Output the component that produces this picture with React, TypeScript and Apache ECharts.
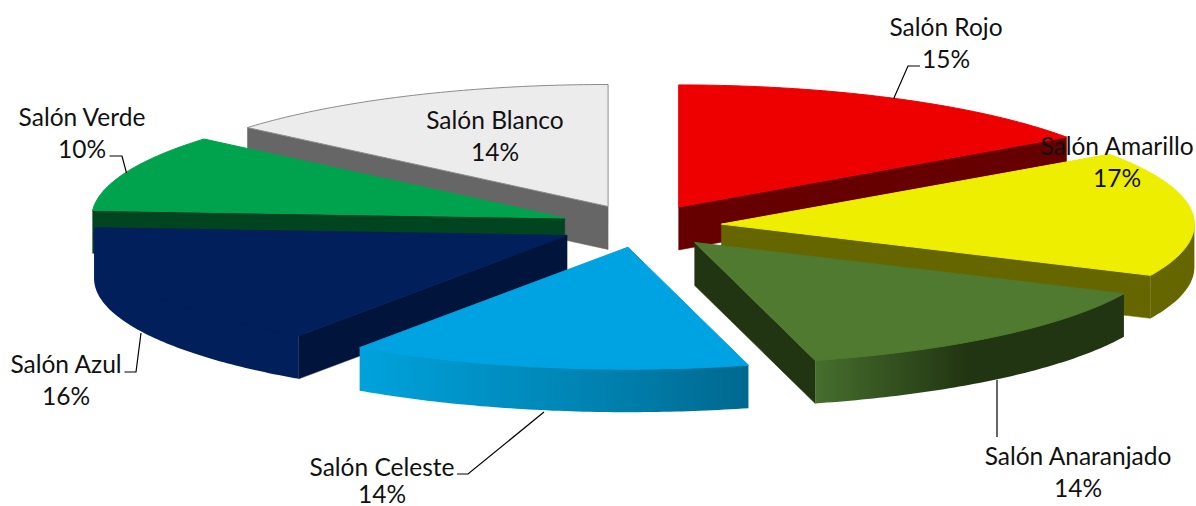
import React, { useEffect, useRef } from "react";
import * as echarts from "echarts";

const NAMES = [
  "Salón Rojo",
  "Salón Amarillo",
  "Salón Anaranjado",
  "Salón Celeste",
  "Salón Azul",
  "Salón Verde",
  "Salón Blanco",
];
const VALUES = [15.3, 16.6, 14.0, 13.7, 16.4, 10.2, 13.8];

// Back-to-front painting order (indices into NAMES)
const DRAW_ORDER = [6, 0, 1, 2, 5, 4, 3];

const TOP_COLORS = ["#ee0000", "#eeee00", "#4f7a30", "#00a3e1", "#001f5b", "#00a34d", "#ececec"];
const SIDE_COLORS = ["#660000", "#666600", "#223512", "#00688f", "#00143c", "#004420", "#666666"];
const RIM_COLORS: string[][] = [
  ["#660000", "#660000"],
  ["#666600", "#666600"],
  ["#47702f", "#34521f", "#223512", "#223512", "#223512"],
  ["#00a2dc", "#0090c4", "#007fac", "#00688f"],
  ["#001f5b", "#001f5b"],
  ["#004420", "#004420"],
  ["#666666", "#666666"],
];

// Label centres (name line, percent line) and leader lines
const NAME_POS = [
  [946, 26],
  [1117, 145],
  [1078, 455],
  [382, 466],
  [66, 363],
  [82, 116],
  [495, 119],
];
const PERCENT_POS = [
  [946, 58],
  [1117, 177],
  [1078, 487],
  [382, 493],
  [66, 395],
  [82, 148],
  [495, 151],
];
const LEADERS: number[][][] = [
  [[893.5, 99], [908, 66], [920, 66]],
  [],
  [[997, 380], [997, 437]],
  [[544, 412], [468, 474], [457, 474]],
  [[141, 333], [136, 372], [124.5, 372]],
  [[126.5, 173], [122, 156], [109.5, 156]],
  [],
];

// Projection of the tilted pie
const CX = 641.7;
const CY = 226;
const RX = 473;
const RY = 122;
const DEPTH = 43;
const EXPLODE_X = [80, 80, 82.5, 80, 83, 83, 80];
const EXPLODE_Y = 21.5;
const FONT = "Lato, Carlito, 'Open Sans', sans-serif";
const FONT_SIZE = 24.5;

const TOTAL = VALUES.reduce((a, b) => a + b, 0);
const rad = (d: number) => (d * Math.PI) / 180;

function sliceAngles(i: number) {
  const before = VALUES.slice(0, i).reduce((a, b) => a + b, 0);
  return [(before / TOTAL) * 360, ((before + VALUES[i]) / TOTAL) * 360];
}

function apexOf(i: number, a: number, b: number) {
  const mid = rad((a + b) / 2);
  return [CX + EXPLODE_X[i] * Math.sin(mid), CY - EXPLODE_Y * Math.cos(mid)];
}

function arcPoints(ax: number, ay: number, from: number, to: number, dy = 0) {
  const pts: number[][] = [];
  const n = Math.max(2, Math.ceil(Math.abs(to - from) / 0.75));
  for (let k = 0; k <= n; k++) {
    const t = rad(from + ((to - from) * k) / n);
    pts.push([ax + RX * Math.sin(t), ay - RY * Math.cos(t) + dy]);
  }
  return pts;
}

function radialFace(ax: number, ay: number, angle: number, fill: string) {
  const px = ax + RX * Math.sin(rad(angle));
  const py = ay - RY * Math.cos(rad(angle));
  return {
    type: "polygon",
    shape: { points: [[ax, ay], [px, py], [px, py + DEPTH], [ax, ay + DEPTH]] },
    style: { fill, stroke: fill, lineWidth: 0.5 },
  };
}

function renderSlice(_: any, api: any) {
  const i = api.value(1) as number;
  const [a, b] = sliceAngles(i);
  const [ax, ay] = apexOf(i, a, b);
  const children: any[] = [];

  if (Math.sin(rad(a)) < -1e-6) children.push(radialFace(ax, ay, a, SIDE_COLORS[i]));
  if (Math.sin(rad(b)) > 1e-6) children.push(radialFace(ax, ay, b, SIDE_COLORS[i]));

  const rimFrom = Math.max(a, 90);
  const rimTo = Math.min(b, 270);
  if (rimTo > rimFrom) {
    const top = arcPoints(ax, ay, rimFrom, rimTo);
    // the rim runs a little under the top face, so that no seam shows along the arc
    const tucked = top.map(([x, y]) => [x + (ax - x) * 0.03, y + (ay - y) * 0.03]);
    const bottom = arcPoints(ax, ay, rimFrom, rimTo, DEPTH).reverse();
    const stops = RIM_COLORS[i];
    const grad = new echarts.graphic.LinearGradient(
      0, 0, 1, 0,
      stops.map((color, k) => ({ offset: k / (stops.length - 1), color }))
    );
    children.push({
      type: "polygon",
      shape: { points: [top[0], ...tucked, top[top.length - 1], ...bottom] },
      style: { fill: grad },
    });
  }

  const isWhite = i === NAMES.length - 1;
  children.push({
    type: "polygon",
    shape: { points: [[ax, ay], ...arcPoints(ax, ay, a, b)] },
    style: {
      fill: TOP_COLORS[i],
      stroke: isWhite ? "#8c8c8c" : TOP_COLORS[i],
      lineWidth: 1,
    },
  });
  return { type: "group", children };
}

function labelText(text: string, pos: number[]) {
  return {
    type: "text",
    style: {
      text,
      x: pos[0],
      y: pos[1],
      align: "center",
      verticalAlign: "middle",
      fill: "#111111",
      fontFamily: FONT,
      fontSize: FONT_SIZE,
    },
  };
}

function renderLabel(_: any, api: any) {
  const i = api.value(1) as number;
  const children: any[] = [];
  if (LEADERS[i].length) {
    children.push({
      type: "polyline",
      shape: { points: LEADERS[i] },
      style: { fill: "none", stroke: "#000000", lineWidth: 1.2 },
    });
  }
  children.push(labelText(NAMES[i], NAME_POS[i]));
  children.push(labelText(`${Math.round(VALUES[i])}%`, PERCENT_POS[i]));
  return { type: "group", children };
}

export default function App() {
  const ref = useRef<HTMLDivElement>(null);
  useEffect(() => {
    document.body.style.margin = "0";
    const chart = echarts.init(ref.current!, null, { renderer: "svg" });
    chart.setOption({
      animation: false,
      backgroundColor: "#ffffff",
      series: [
        {
          type: "custom",
          coordinateSystem: "none",
          silent: true,
          z: 2,
          renderItem: renderSlice,
          data: DRAW_ORDER.map((i) => ({ name: NAMES[i], value: [VALUES[i], i] })),
        },
        {
          type: "custom",
          coordinateSystem: "none",
          silent: true,
          z: 3,
          renderItem: renderLabel,
          data: NAMES.map((name, i) => ({ name, value: [VALUES[i], i] })),
        },
      ],
    });
    return () => chart.dispose();
  }, []);
  return <div ref={ref} style={{ width: 1196, height: 506 }} />;
}
